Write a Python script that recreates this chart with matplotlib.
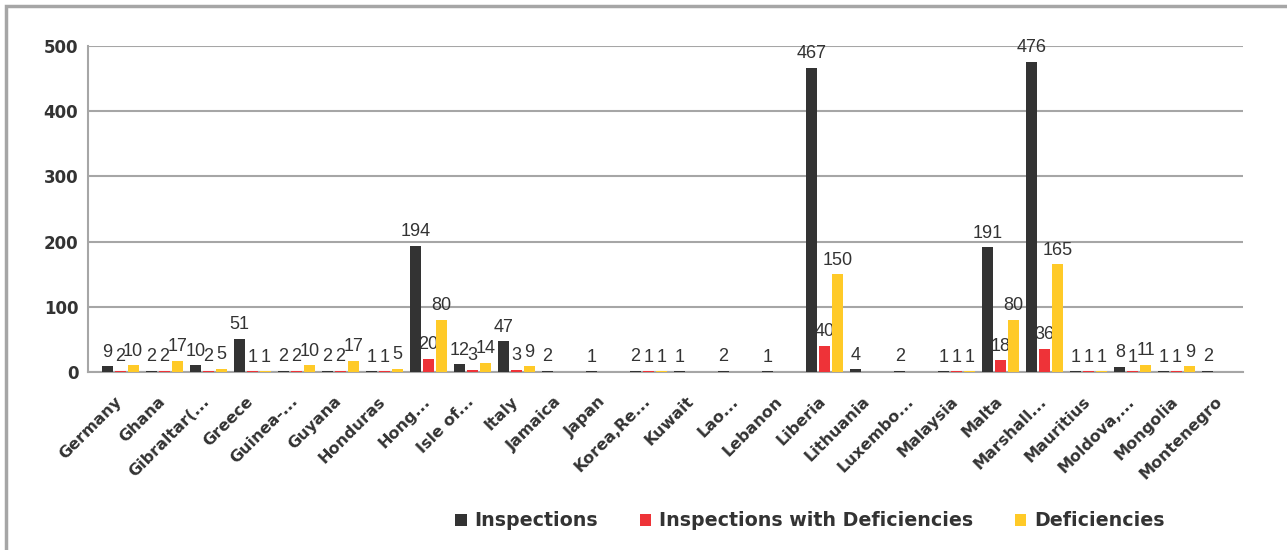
import numpy as np
import matplotlib.pyplot as plt
from matplotlib.patches import Rectangle
from matplotlib.transforms import offset_copy

countries = ['Germany', 'Ghana', 'Gibraltar(...', 'Greece', 'Guinea-...', 'Guyana',
             'Honduras', 'Hong...', 'Isle of...', 'Italy', 'Jamaica', 'Japan',
             'Korea,Re...', 'Kuwait', 'Lao...', 'Lebanon', 'Liberia', 'Lithuania',
             'Luxembo...', 'Malaysia', 'Malta', 'Marshall...', 'Mauritius',
             'Moldova,...', 'Mongolia', 'Montenegro']
nan = np.nan
inspections = [9, 2, 10, 51, 2, 2, 1, 194, 12, 47, 2, 1, 2, 1, 2, 1, 467, 4, 2, 1,
               191, 476, 1, 8, 1, 2]
insp_with_def = [2, 2, 2, 1, 2, 2, 1, 20, 3, 3, nan, nan, 1, nan, nan, nan, 40, nan,
                 nan, 1, 18, 36, 1, 1, 1, nan]
deficiencies = [10, 17, 5, 1, 10, 17, 5, 80, 14, 9, nan, nan, 1, nan, nan, nan, 150,
                nan, nan, 1, 80, 165, 1, 11, 9, nan]

series = [('Inspections', inspections, '#333333'),
          ('Inspections with Deficiencies', insp_with_def, '#EE3338'),
          ('Deficiencies', deficiencies, '#FFCA28')]

fig = plt.figure(figsize=(12.87, 5.5), dpi=100)
ax = fig.add_axes([88 / 1287, 1 - 372 / 550, (1243 - 88) / 1287, (372 - 46) / 550])

x = np.arange(len(countries))
w = 0.25
for i, (name, vals, col) in enumerate(series):
    vals = np.array(vals, dtype=float)
    pos = x + (i - 1) * (w + 0.045)
    ax.bar(pos, np.nan_to_num(vals), w, color=col, label=name, zorder=3)
    for xp, v in zip(pos, vals):
        if not np.isnan(v):
            ax.annotate(f'{int(v)}', (xp, v), xytext=(0, 4), textcoords='offset points',
                        ha='center', va='bottom', fontsize=13,
                        family='Liberation Sans', color='#333333')

ax.set_xlim(-0.73, len(countries) - 0.5)
ax.set_ylim(0, 500)
ax.set_yticks(range(0, 501, 100))
ax.yaxis.grid(True, color='#A6A6A6', lw=1.5)
ax.set_axisbelow(True)
for s in ['top', 'right']:
    ax.spines[s].set_visible(False)
for s in ['left', 'bottom']:
    ax.spines[s].set_color('#A6A6A6')
    ax.spines[s].set_linewidth(1.5)
ax.tick_params(length=0, colors='#333333')
ax.set_xticks(x)
ax.set_xticklabels(countries, rotation=45, ha='right', va='center',
                   rotation_mode='anchor', fontsize=11.5, fontweight='bold')
for t in ax.get_xticklabels():
    t.set_transform(offset_copy(t.get_transform(), fig=fig, x=-1, y=-22, units='dots'))
for t in ax.get_yticklabels():
    t.set_fontsize(12)
    t.set_fontweight('bold')
    t.set_transform(offset_copy(t.get_transform(), fig=fig, x=0, y=3, units='dots'))
ax.tick_params(axis='y', pad=7)

fig.legend(loc='center', bbox_to_anchor=(810 / 1287, 1 - 521 / 550), ncol=3,
           frameon=False, handlelength=0.6, handleheight=0.6, handletextpad=0.4,
           columnspacing=2.2, prop={'weight': 'bold', 'size': 13.7},
           labelcolor='#333333')

fig.patches.append(Rectangle((5.5 / 1287, -0.1), 1.2, 1.1 - 5.5 / 550,
                             transform=fig.transFigure, fill=False,
                             edgecolor='#A6A6A6', lw=2.5))

fig.savefig('out.png', dpi=100)
